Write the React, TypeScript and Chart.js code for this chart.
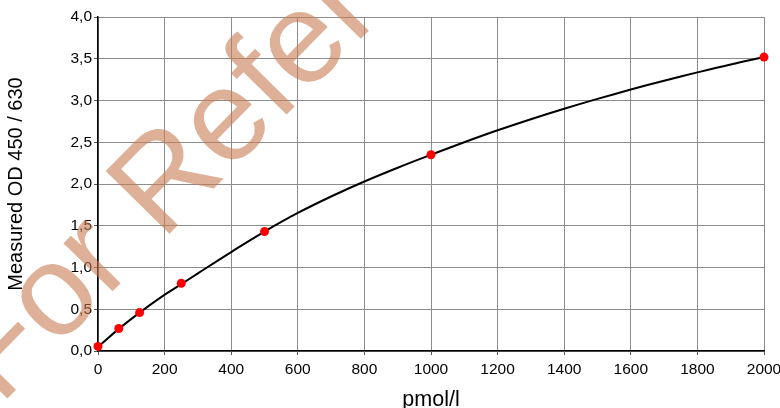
import React, { useEffect, useRef } from "react";
import { Chart, registerables } from "chart.js";

Chart.register(...registerables);

// Standards (measured points)
const stdConc = [0, 62.5, 125, 250, 500, 1000, 2000];
const stdOD = [0.055, 0.27, 0.46, 0.81, 1.43, 2.35, 3.52];

// Fitted curve
const curveConc = [0, 62.5, 125, 187.5, 250, 300, 400, 500, 600, 700, 800, 900, 1000, 1100, 1200, 1300, 1400, 1500, 1600, 1700, 1800, 1900, 2000];
const curveOD = [0.05, 0.265, 0.46, 0.64, 0.8, 0.93, 1.185, 1.43, 1.653, 1.85, 2.03, 2.195, 2.35, 2.5, 2.643, 2.776, 2.901, 3.019, 3.131, 3.237, 3.337, 3.432, 3.52];

const xTitle = "pmol/l";
const yTitle = "Measured OD 450 / 630";
const watermark = "For Reference";

const FONT = '"Liberation Sans", Arial, sans-serif';

const watermarkPlugin = {
  id: "watermark",
  afterDraw(chart: any) {
    const ctx = chart.ctx;
    ctx.save();
    ctx.translate(0, 406);
    ctx.rotate((-45.5 * Math.PI) / 180);
    ctx.font = `130px ${FONT}`;
    ctx.fillStyle = "rgba(200,124,82,0.6)";
    ctx.textAlign = "left";
    ctx.textBaseline = "alphabetic";
    ctx.fillText(watermark, 0, 0);
    ctx.restore();
  },
};

export default function App() {
  const ref = useRef<HTMLCanvasElement>(null);

  useEffect(() => {
    if (!ref.current) return;
    const chart = new Chart(ref.current, {
      type: "scatter",
      data: {
        datasets: [
          {
            label: "Standards",
            data: stdConc.map((x, i) => ({ x, y: stdOD[i] })),
            showLine: false,
            pointRadius: 4.5,
            pointBackgroundColor: "#ff0000",
            pointBorderColor: "#ff0000",
            pointBorderWidth: 0,
            clip: false as any,
          },
          {
            label: "Fit",
            data: curveConc.map((x, i) => ({ x, y: curveOD[i] })),
            showLine: true,
            tension: 0.4,
            borderColor: "#000",
            borderWidth: 2,
            pointRadius: 0,
            clip: false as any,
          },
        ],
      },
      options: {
        responsive: false,
        animation: false,
        layout: { padding: { left: 0, right: 16, top: 17, bottom: 0 } },
        plugins: {
          legend: { display: false },
          tooltip: { enabled: false },
        },
        scales: {
          x: {
            type: "linear",
            min: 0,
            max: 2000,
            afterFit(scale: any) {
              scale.height = 57;
              scale.paddingLeft = 0;
              scale.paddingRight = 0;
            },
            ticks: {
              stepSize: 200,
              color: "#000",
              font: { family: FONT, size: 15.5 },
              padding: 5,
              callback: (v: any) => String(v),
            },
            grid: {
              color: "#8c8c8c",
              lineWidth: 1,
              tickLength: 4,
              tickColor: "#555",
            },
            border: { color: "#000", width: 1.5 },
            title: {
              display: true,
              text: xTitle,
              color: "#000",
              font: { family: FONT, size: 21.5 },
              padding: { top: 0, bottom: -5 },
            },
          },
          y: {
            type: "linear",
            min: 0,
            max: 4,
            afterFit(scale: any) {
              scale.width = 98;
              scale.paddingTop = 0;
              scale.paddingBottom = 0;
            },
            ticks: {
              stepSize: 0.5,
              color: "#000",
              font: { family: FONT, size: 15.5 },
              padding: 2,
              callback: (v: any) => Number(v).toFixed(1).replace(".", ","),
            },
            grid: {
              color: "#8c8c8c",
              lineWidth: 1,
              tickLength: 4,
              tickColor: "#555",
            },
            border: { color: "#000", width: 1.5 },
            title: {
              display: true,
              text: yTitle,
              color: "#000",
              font: { family: FONT, size: 20 },
              padding: { top: 4, bottom: 0 },
            },
          },
        },
      },
      plugins: [watermarkPlugin],
    });
    return () => chart.destroy();
  }, []);

  return (
    <div style={{ position: "fixed", left: 0, top: 0, width: 780, height: 408, background: "#fff" }}>
      <canvas ref={ref} width={780} height={408} />
    </div>
  );
}
